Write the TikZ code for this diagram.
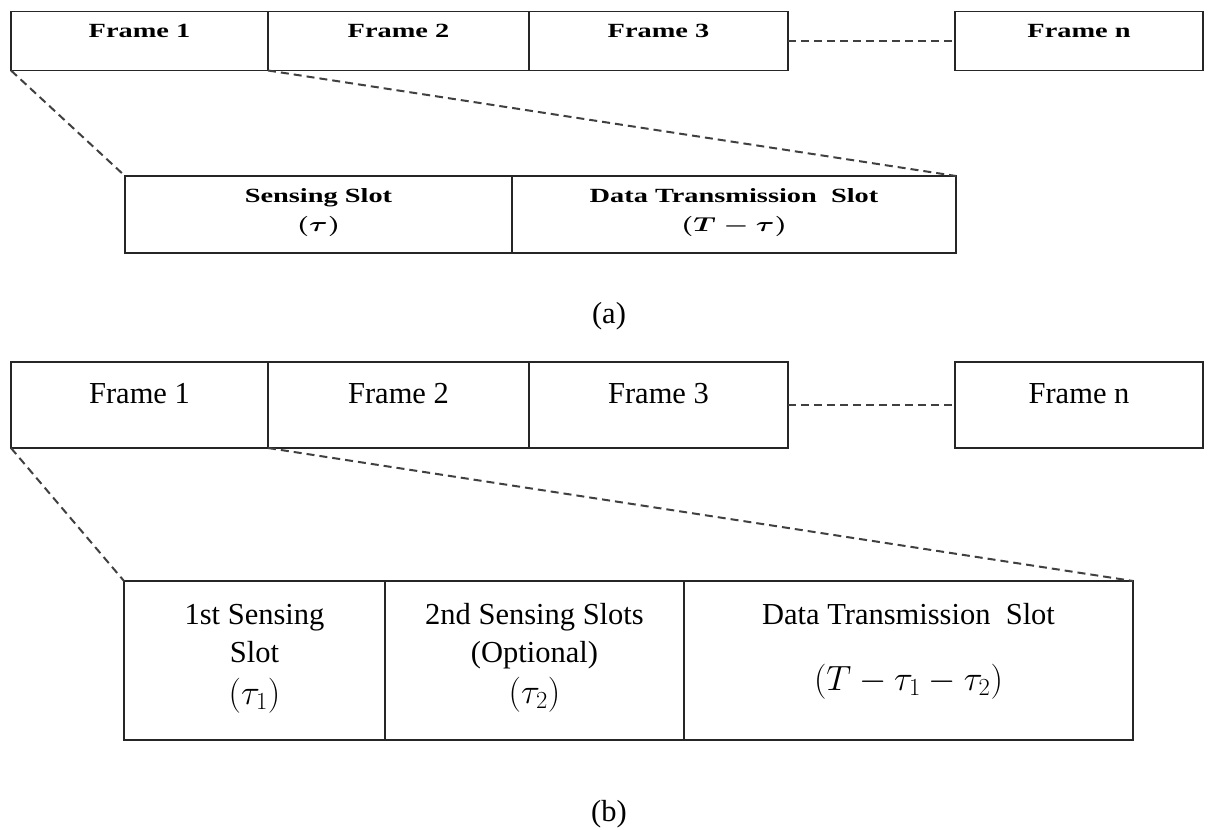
\documentclass[tikz,border=0pt]{standalone}
\usepackage{fix-cm}
\usepackage{amsmath}
\usepackage{fontspec}
\usepackage{graphicx}
\setmainfont{Liberation Serif}
\newcommand{\sq}[1]{\scalebox{0.93}[0.66]{\bfseries #1}}
\newcommand{\mbig}[1]{\scalebox{1.15}{#1}}
\begin{document}
\begin{tikzpicture}[x=1pt,y=-1pt,
  boxs/.style={draw=black!85,line width=1.8pt,outer sep=0pt,inner sep=0pt},
  dashline/.style={draw=black!75,line width=2pt,dash pattern=on 8pt off 5pt},
  txta/.style={font=\fontsize{30.5}{36}\selectfont,inner sep=0pt,anchor=base},
  txtb/.style={font=\fontsize{30.5}{36}\selectfont,inner sep=0pt,anchor=base}]
\useasboundingbox (0,0) rectangle (1214,829);

% ---------- (a) ----------
\node[boxs,minimum width=257pt,minimum height=59pt] (fa1) at (139.5,41) {};
\node[boxs,minimum width=261pt,minimum height=59pt] (fa2) at (398.5,41) {};
\node[boxs,minimum width=259pt,minimum height=59pt] (fa3) at (658.5,41) {};
\node[boxs,minimum width=248pt,minimum height=59pt] (fan) at (1079,41) {};
\node[txta] (ta1) at (139.5,38) {\sq{Frame 1}};
\node[txta] (ta2) at (398.5,38) {\sq{Frame 2}};
\node[txta] (ta3) at (658.5,38) {\sq{Frame 3}};
\node[txta] (tan) at (1079,38) {\sq{Frame n}};
\draw[dashline] (fa3.east) -- (fan.west);

\node[boxs,minimum width=387pt,minimum height=77pt] (sa1) at (318.5,214.5) {};
\node[boxs,minimum width=444pt,minimum height=77pt] (sa2) at (734,214.5) {};
\node[txta] (sa1l1) at (318.5,202) {\sq{Sensing Slot}};
\node[txta] (sa1l2) at (318.5,231) {\sq{$\boldsymbol{(\tau)}$}};
\node[txta] (sa2l1) at (734,202) {\sq{Data Transmission\ \ Slot}};
\node[txta] (sa2l2) at (734,231) {\sq{$\boldsymbol{(T-\tau)}$}};
\draw[dashline] (fa1.south west) -- (sa1.north west);
\draw[dashline] (fa1.south east) -- (sa2.north east);

\node[txtb] (capa) at (609,323) {(a)};

% ---------- (b) ----------
\node[boxs,minimum width=257pt,minimum height=86pt] (fb1) at (139.5,405) {};
\node[boxs,minimum width=261pt,minimum height=86pt] (fb2) at (398.5,405) {};
\node[boxs,minimum width=259pt,minimum height=86pt] (fb3) at (658.5,405) {};
\node[boxs,minimum width=248pt,minimum height=86pt] (fbn) at (1079,405) {};
\node[txtb] (tb1) at (139.5,403.5) {Frame 1};
\node[txtb] (tb2) at (398.5,403.5) {Frame 2};
\node[txtb] (tb3) at (658.5,403.5) {Frame 3};
\node[txtb] (tbn) at (1079,403.5) {Frame n};
\draw[dashline] (fb3.east) -- (fbn.west);

\node[boxs,minimum width=261pt,minimum height=159pt] (sb1) at (254.5,660.5) {};
\node[boxs,minimum width=299pt,minimum height=159pt] (sb2) at (534.5,660.5) {};
\node[boxs,minimum width=449pt,minimum height=159pt] (sb3) at (908.5,660.5) {};
\node[txtb] (sb1l1) at (254.5,624) {1st Sensing};
\node[txtb] (sb1l2) at (254.5,662) {Slot};
\node[txtb] (sb1l3) at (254.5,704) {\mbig{$(\tau_1)$}};
\node[txtb] (sb2l1) at (534.5,624) {2nd Sensing Slots};
\node[txtb] (sb2l2) at (534.5,662) {(Optional)};
\node[txtb] (sb2l3) at (534.5,703) {\mbig{$(\tau_2)$}};
\node[txtb] (sb3l1) at (908.5,624) {Data Transmission\ \ Slot};
\node[txtb] (sb3l2) at (908.5,690) {\mbig{$(T-\tau_1-\tau_2)$}};
\draw[dashline] (fb1.south west) -- (sb1.north west);
\draw[dashline] (fb1.south east) -- (sb3.north east);

\node[txtb] (capb) at (609,821.5) {(b)};
\end{tikzpicture}
\end{document}
